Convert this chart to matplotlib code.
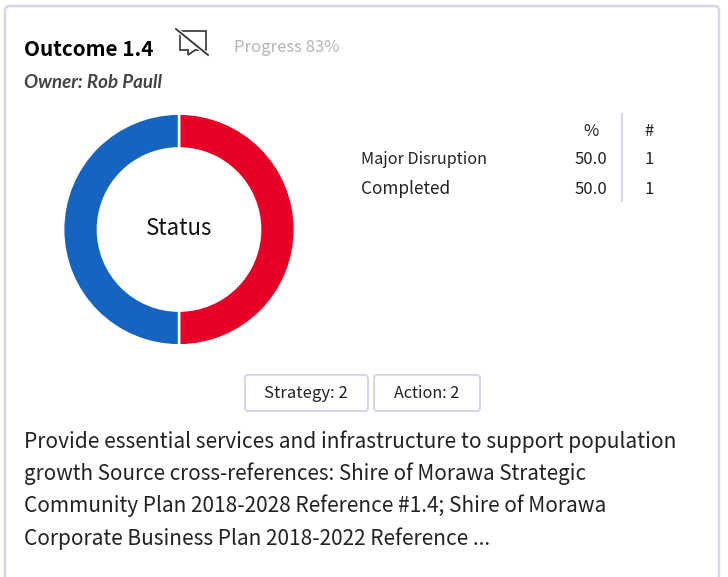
import matplotlib
matplotlib.use('Agg')
import matplotlib.pyplot as plt
from matplotlib.patches import FancyBboxPatch, Polygon
from matplotlib.lines import Line2D

plt.rcParams['font.family'] = ['Noto Sans CJK SC', 'DejaVu Sans']

W, H = 728, 577
BORDER = '#d5d7e8'

# data
status_labels = ['Major Disruption', 'Completed']
status_pct = [50.0, 50.0]
status_count = [1, 1]
status_colors = ['#e60026', '#1565c0']
title = 'Outcome 1.4'
progress = 'Progress 83%'
owner = 'Owner: Rob Paull'
center_label = 'Status'
buttons = ['Strategy: 2', 'Action: 2']
body_lines = [
    'Provide essential services and infrastructure to support population',
    'growth Source cross-references: Shire of Morawa Strategic',
    'Community Plan 2018-2028 Reference #1.4; Shire of Morawa',
    'Corporate Business Plan 2018-2022 Reference ...',
]

fig = plt.figure(figsize=(W / 100, H / 100), dpi=100)
# overlay in pixel coords, y down
bg = fig.add_axes([0, 0, 1, 1])
bg.set_xlim(0, W)
bg.set_ylim(H, 0)
bg.axis('off')

# card outline, runs off the bottom
bg.add_patch(FancyBboxPatch((5, 6), 714, 600, boxstyle='round,pad=0,rounding_size=5',
                            fc='white', ec=BORDER, lw=1.8))

# header
bg.text(24, 49, title, fontsize=14.9, fontweight='bold', color='black', va='center')
bg.text(234, 47, progress, fontsize=12, color='#b5b5b5', va='center')
# the CJK family has no italic, Lato is the nearest one that does
bg.text(24, 82, owner, fontsize=13.5, family='Lato', style='italic', fontweight='bold',
        color='#444444', va='center')

# comment icon, struck through
icon_x = [180, 206, 206, 195, 188, 188, 180, 180]
icon_y = [31, 31, 50, 50, 55, 50, 50, 31]
bg.add_patch(Polygon(list(zip(icon_x, icon_y)), closed=True, fc='none', ec='#333333', lw=1.2))
bg.add_line(Line2D([176, 208], [29, 55], color='white', lw=3))
bg.add_line(Line2D([176, 208], [29, 55], color='#333333', lw=1.3))

# donut
R = 116
cx, cy = 179, 229.5
ax = fig.add_axes([(cx - R - 1) / W, 1 - (cy + R + 1) / H, (2 * R + 2) / W, (2 * R + 2) / H])
ax.pie(status_pct, colors=status_colors, startangle=90, counterclock=False, radius=1.0,
       wedgeprops=dict(width=0.3, edgecolor='white', linewidth=1.8))
ax.set_xlim(-1.01, 1.01)
ax.set_ylim(-1.01, 1.01)
ax.text(0, 0.01, center_label, ha='center', va='center', fontsize=16, color='#111111')

# table
bg.text(591, 131, '%', ha='center', va='center', fontsize=12, color='#222222')
bg.text(649, 131, '#', ha='center', va='center', fontsize=12, color='#222222')
row_y = [159, 189]
row_size = [11.6, 12.4]
for y, fs, lab, p, n in zip(row_y, row_size, status_labels, status_pct, status_count):
    bg.text(361, y, lab, va='center', fontsize=fs, color='#222222')
    bg.text(607, y, f'{p:.1f}', ha='right', va='center', fontsize=12, color='#222222')
    bg.text(649, y, str(n), ha='center', va='center', fontsize=12, color='#222222')
bg.add_line(Line2D([622, 622], [114, 201], color=BORDER, lw=1.5))

# buttons
btn_x = [(245, 368), (374, 480)]
btn_size = [12, 11.6]
for (x0, x1), fs, b in zip(btn_x, btn_size, buttons):
    bg.add_patch(FancyBboxPatch((x0, 375), x1 - x0, 36, boxstyle='round,pad=0,rounding_size=3',
                                fc='white', ec=BORDER, lw=1.5))
    bg.text((x0 + x1) / 2 - 0.5, 394, b, ha='center', va='center', fontsize=fs, color='#222222')

# description
body_y = [442, 474, 506, 539]
body_size = [15.1, 14.85, 15.0, 15.0]
for y, fs, line in zip(body_y, body_size, body_lines):
    bg.text(24, y, line, va='center', fontsize=fs, color='#222222')

fig.savefig('out.png', dpi=100)
